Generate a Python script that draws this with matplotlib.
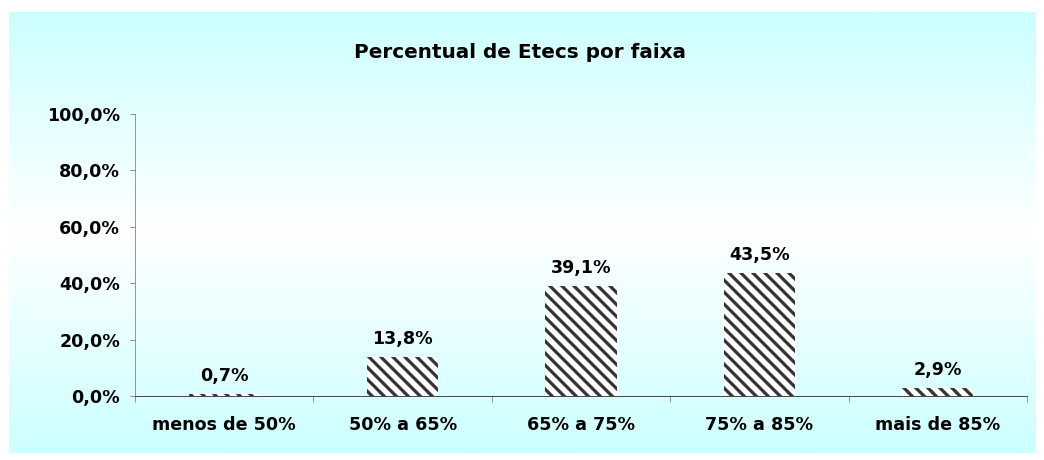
import matplotlib
matplotlib.use('Agg')
import matplotlib.pyplot as plt
import numpy as np

##-------------------------------------------------------------
categories = ['menos de 50%', '50% a 65%', '65% a 75%', '75% a 85%', 'mais de 85%']
values = [0.7, 13.8, 39.1, 43.5, 2.9]
value_labels = ['0,7%', '13,8%', '39,1%', '43,5%', '2,9%']
yticks = [0, 20, 40, 60, 80, 100]
ytick_labels = ['0,0%', '20,0%', '40,0%', '60,0%', '80,0%', '100,0%']
title = 'Percentual de Etecs por faixa'
##-------------------------------------------------------------

W, H = 1044, 460
DPI = 72
plt.rcParams['font.family'] = 'DejaVu Sans'
plt.rcParams['font.weight'] = 'bold'
plt.rcParams['hatch.linewidth'] = 3.2

fig = plt.figure(figsize=(W / DPI, H / DPI), dpi=DPI, facecolor='white')

# chart area background: cyan -> white -> cyan
bg = fig.add_axes([9 / W, 1 - 453 / H, (1036 - 9) / W, (453 - 12) / H])
t = np.abs(np.linspace(-1, 1, 256))[:, None]
cyan = np.array([0.80, 1.0, 1.0])
white = np.array([1.0, 1.0, 1.0])
grad = white[None, None, :] * (1 - t[..., None]) + cyan[None, None, :] * t[..., None]
bg.imshow(grad, aspect='auto', extent=[0, 1, 0, 1])
bg.axis('off')

ax = fig.add_axes([135 / W, 1 - 396 / H, (1027 - 135) / W, (396 - 114) / H])
ax.patch.set_alpha(0)
x = np.arange(len(categories))
bars = ax.bar(x, values, width=0.4, color='white', edgecolor='#333333',
              hatch='\\\\', linewidth=0)

for xi, v, lab in zip(x, values, value_labels):
    ax.annotate(lab, (xi, v), xytext=(0, 9), textcoords='offset points',
                ha='center', va='bottom', fontsize=17.5, fontweight='bold')

ax.set_xlim(-0.5, len(categories) - 0.5)
ax.set_ylim(0, 100)
ax.set_yticks(yticks)
ax.set_yticklabels(ytick_labels, fontsize=17.5, fontweight='bold')
ax.set_xticks(x)
ax.set_xticklabels(categories, fontsize=17.5, fontweight='bold')
ax.set_xticks(np.arange(-0.5, len(categories), 1), minor=True)
ax.tick_params(axis='x', which='major', length=0, pad=20)
ax.tick_params(axis='x', which='minor', length=6, direction='out', color='#555555')
ax.tick_params(axis='y', length=5, direction='out', color='#777777', pad=10)

for s in ['top', 'right']:
    ax.spines[s].set_visible(False)
ax.spines['left'].set_color('#808080')
ax.spines['bottom'].set_color('#222222')

fig.text(520 / W, 1 - 52 / H, title, ha='center', va='center', fontsize=20, fontweight='bold')

plt.savefig('out.png', dpi=DPI)
